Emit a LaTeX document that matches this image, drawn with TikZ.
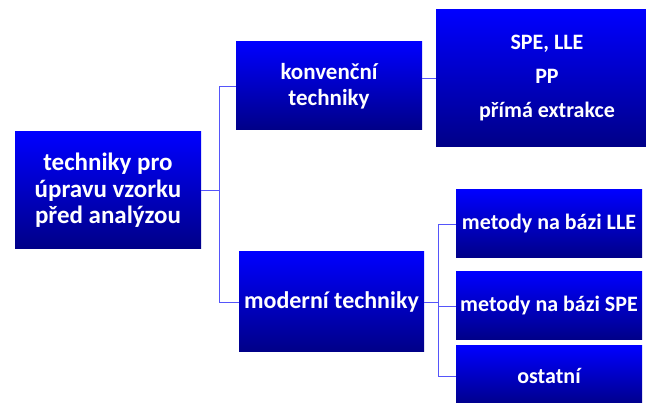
\documentclass[tikz,border=0pt]{standalone}
\usepackage{fontspec}
\setmainfont{Carlito}
\usepackage{tikz}
\definecolor{boxtop}{RGB}{0,0,255}
\definecolor{boxbottom}{RGB}{0,0,135}
\definecolor{linkblue}{RGB}{85,85,250}
\tikzset{
	techbox/.style={rectangle, top color=boxtop, bottom color=boxbottom, draw=none,
		text=white, font=\fontsize{24}{26.5}\selectfont\bfseries, align=center,
		inner sep=0pt, minimum width=186pt},
	smallbox/.style={techbox, font=\fontsize{22}{26}\selectfont\bfseries},
	link/.style={draw=linkblue, line width=0.9pt}
}

\begin{document}
\begin{tikzpicture}[x=1pt, y=-1pt]
			\useasboundingbox (0,0) rectangle (646,403);
			\node[techbox, minimum height=117pt, font=\fontsize{25}{26.5}\selectfont\bfseries] (root) at (108,190.5) {techniky pro\\úpravu vzorku\\před analýzou};
			\node[techbox, minimum height=88pt, font=\fontsize{23}{26.5}\selectfont\bfseries] (konv) at (329,86) {konvenční\\techniky};
			\node[techbox, minimum width=222pt, minimum height=137pt, font=\fontsize{22}{34}\selectfont\bfseries] (prime) at (547,78.5) {SPE, LLE\\PP\\přímá extrakce};
			\node[techbox, minimum width=185pt, minimum height=100pt] (moderni) at (331.5,302) {moderní techniky};
			\node[smallbox, minimum height=68pt] (lle) at (549,224) {metody na bázi LLE};
			\node[smallbox, minimum height=68pt] (spe) at (549,306) {metody na bázi SPE};
			\node[smallbox, minimum height=60pt] (ostatni) at (549,376) {ostatní};
			\coordinate (fork1) at (219,190.5);
			\coordinate (fork2) at (438,302);
			\draw[link] (root.east) -- (fork1) |- (konv.west);
			\draw[link] (fork1) |- (moderni.west);
			\draw[link] (konv.east |- prime.west) -- (prime.west);
			\draw[link] (moderni.east) -- (fork2) |- (lle.west);
			\draw[link] (fork2) |- (spe.west);
			\draw[link] (fork2) |- (ostatni.west);
		\end{tikzpicture}
\end{document}
